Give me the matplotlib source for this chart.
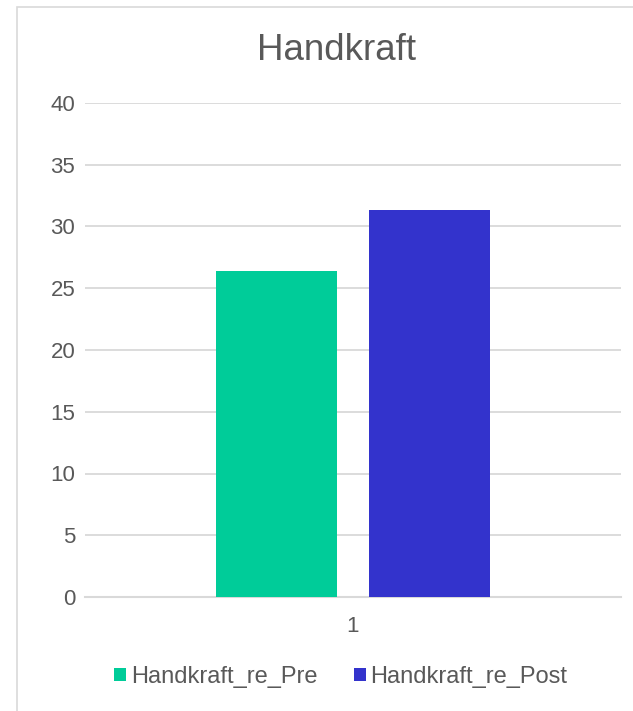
import matplotlib.pyplot as plt
from matplotlib.patches import Rectangle
import numpy as np

# data
categories = ['1']
series_names = ['Handkraft_re_Pre', 'Handkraft_re_Post']
series_values = [[26.4], [31.3]]
series_colors = ['#00CC99', '#3333CC']
y_ticks = [0, 5, 10, 15, 20, 25, 30, 35, 40]

plt.rcParams['font.family'] = ['Liberation Sans', 'DejaVu Sans']
text_color = '#595959'
grid_color = '#D9D9D9'

fig = plt.figure(figsize=(6.33, 7.11), dpi=100)
ax = fig.add_axes([85 / 633, 1 - 597 / 711, 536 / 633, 494 / 711])

# chart border (Excel chart area)
fig.patches.append(Rectangle((17 / 633, -0.1), 1.2, 1 - 7 / 711 + 0.1,
                             transform=fig.transFigure, fill=False,
                             edgecolor=grid_color, linewidth=1.2))

x = np.arange(len(categories)) + 1
bar_w = 121 / 536
gap = 32 / 536
offsets = [-(bar_w + gap) / 2, (bar_w + gap) / 2]
for name, vals, col, off in zip(series_names, series_values, series_colors, offsets):
    ax.bar(x + off, vals, width=bar_w, color=col, label=name, zorder=3)

ax.set_xlim(0.5, 1.5)
ax.set_ylim(0, 40)
ax.set_yticks(y_ticks)
ax.set_xticks(x)
ax.set_xticklabels(categories)
ax.yaxis.grid(True, color=grid_color, linewidth=1.3, zorder=0)
for s in ['top', 'right', 'left']:
    ax.spines[s].set_visible(False)
ax.spines['bottom'].set_color(grid_color)
ax.spines['bottom'].set_linewidth(1.5)
ax.tick_params(axis='both', length=0, colors=text_color, labelsize=16)
ax.tick_params(axis='y', pad=7)
ax.tick_params(axis='x', pad=14)

fig.text(336 / 633, 1 - 50 / 711, 'Handkraft', ha='center', va='center',
         fontsize=26.5, color=text_color)

leg = fig.legend(loc='center', bbox_to_anchor=(341 / 633, 1 - 677 / 711), ncol=2,
                 frameon=False, fontsize=17, handlelength=0.5, handleheight=0.5,
                 handletextpad=0.2, columnspacing=1.55, labelcolor=text_color)

plt.savefig('out.png', dpi=100)
plt.close()
